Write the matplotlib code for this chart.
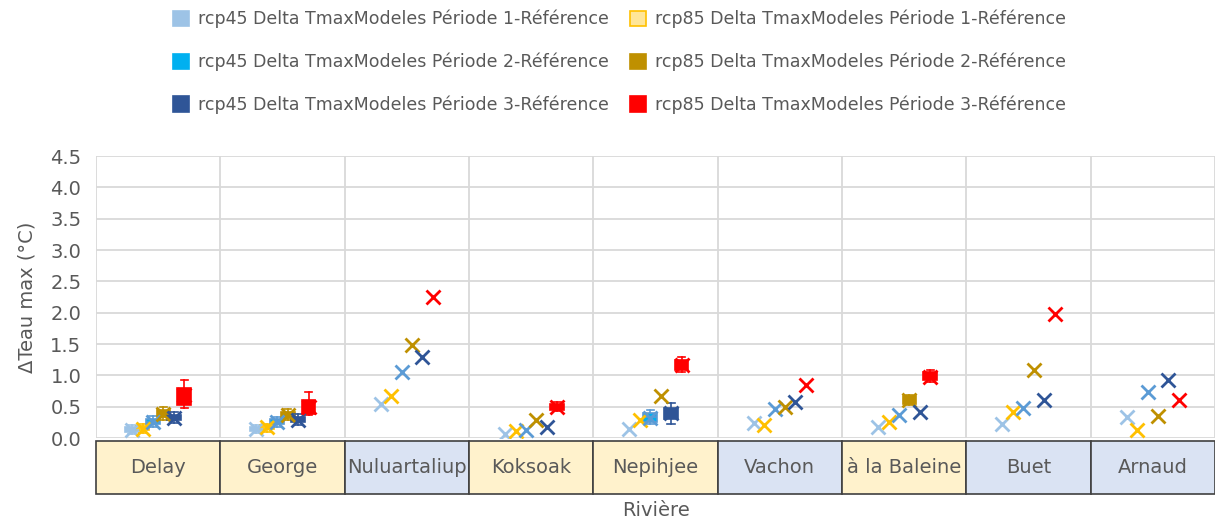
import matplotlib
matplotlib.use("Agg")
import matplotlib.pyplot as plt
from matplotlib.patches import Rectangle, Patch

plt.rcParams['font.family'] = ['DejaVu Sans']

categories = ["Delay", "George", "Nuluartaliup", "Koksoak", "Nepihjee",
              "Vachon", "à la Baleine", "Buet", "Arnaud"]
cell_colors = ["#FFF2CC", "#FFF2CC", "#DAE3F3", "#FFF2CC", "#FFF2CC",
               "#DAE3F3", "#FFF2CC", "#DAE3F3", "#DAE3F3"]

series_names = [
    "rcp45 Delta TmaxModeles Période 1-Référence",
    "rcp85 Delta TmaxModeles Période 1-Référence",
    "rcp45 Delta TmaxModeles Période 2-Référence",
    "rcp85 Delta TmaxModeles Période 2-Référence",
    "rcp45 Delta TmaxModeles Période 3-Référence",
    "rcp85 Delta TmaxModeles Période 3-Référence",
]
line_colors = ["#9DC3E6", "#FFC000", "#5B9BD5", "#BF9000", "#2F5597", "#FF0000"]
fill_colors = ["#9DC3E6", "#FFE699", "#00B0F0", "#BF9000", "#2F5597", "#FF0000"]
legend_edges = ["#9DC3E6", "#FFC000", "#00B0F0", "#BF9000", "#2F5597", "#FF0000"]

# mean values (rows = series in plotting order, columns = categories)
means = [
    [0.13, 0.14, 0.55, 0.07, 0.14, 0.24, 0.17, 0.23, 0.34],
    [0.15, 0.17, 0.67, 0.11, 0.28, 0.21, 0.26, 0.42, 0.13],
    [0.26, 0.26, 1.05, 0.13, 0.32, 0.47, 0.37, 0.48, 0.73],
    [0.38, 0.36, 1.48, 0.29, 0.67, 0.50, 0.61, 1.08, 0.35],
    [0.32, 0.29, 1.30, 0.17, 0.40, 0.58, 0.42, 0.60, 0.92],
    [0.68, 0.50, 2.25, 0.50, 1.16, 0.85, 0.97, 1.98, 0.60],
]
q1 = [
    [0.10, 0.11, 0.55, 0.07, 0.14, 0.24, 0.17, 0.23, 0.34],
    [0.12, 0.14, 0.67, 0.11, 0.28, 0.21, 0.26, 0.42, 0.13],
    [0.22, 0.22, 1.05, 0.13, 0.26, 0.47, 0.37, 0.48, 0.73],
    [0.33, 0.32, 1.48, 0.29, 0.67, 0.50, 0.55, 1.08, 0.35],
    [0.28, 0.25, 1.30, 0.17, 0.30, 0.58, 0.42, 0.60, 0.92],
    [0.52, 0.38, 2.25, 0.45, 1.08, 0.85, 0.92, 1.98, 0.60],
]
q3 = [
    [0.17, 0.17, 0.55, 0.07, 0.14, 0.24, 0.17, 0.23, 0.34],
    [0.19, 0.20, 0.67, 0.11, 0.28, 0.21, 0.26, 0.42, 0.13],
    [0.30, 0.30, 1.05, 0.13, 0.40, 0.47, 0.37, 0.48, 0.73],
    [0.44, 0.42, 1.48, 0.29, 0.67, 0.50, 0.67, 1.08, 0.35],
    [0.37, 0.34, 1.30, 0.17, 0.48, 0.58, 0.42, 0.60, 0.92],
    [0.80, 0.60, 2.25, 0.55, 1.25, 0.85, 1.05, 1.98, 0.60],
]
whisk_lo = [
    [0.06, 0.08, 0.55, 0.07, 0.14, 0.24, 0.17, 0.23, 0.34],
    [0.08, 0.10, 0.67, 0.11, 0.28, 0.21, 0.26, 0.42, 0.13],
    [0.18, 0.18, 1.05, 0.13, 0.22, 0.47, 0.37, 0.48, 0.73],
    [0.28, 0.28, 1.48, 0.29, 0.67, 0.50, 0.53, 1.08, 0.35],
    [0.24, 0.21, 1.30, 0.17, 0.22, 0.58, 0.42, 0.60, 0.92],
    [0.48, 0.36, 2.25, 0.43, 1.05, 0.85, 0.90, 1.98, 0.60],
]
whisk_hi = [
    [0.20, 0.20, 0.55, 0.07, 0.14, 0.24, 0.17, 0.23, 0.34],
    [0.23, 0.23, 0.67, 0.11, 0.28, 0.21, 0.26, 0.42, 0.13],
    [0.35, 0.34, 1.05, 0.13, 0.44, 0.47, 0.37, 0.48, 0.73],
    [0.50, 0.46, 1.48, 0.29, 0.67, 0.50, 0.69, 1.08, 0.35],
    [0.42, 0.38, 1.30, 0.17, 0.56, 0.58, 0.42, 0.60, 0.92],
    [0.93, 0.73, 2.25, 0.57, 1.30, 0.85, 1.08, 1.98, 0.60],
]
yticks = [0.0, 0.5, 1.0, 1.5, 2.0, 2.5, 3.0, 3.5, 4.0, 4.5]

W, H = 1215, 523
fig = plt.figure(figsize=(W / 100, H / 100), dpi=100)
ax = fig.add_axes([96 / W, 1 - 438 / H, (1215 - 96) / W, 282 / H])

n = len(categories)
ax.set_xlim(-0.5, n - 0.5)
ax.set_ylim(0, 4.5)
ax.set_yticks(yticks)
ax.set_yticklabels([f"{v:.1f}" for v in yticks], color="#595959", fontsize=14)
ax.set_xticks([])
ax.tick_params(axis="y", length=0, pad=10.5)
for s in ax.spines.values():
    s.set_visible(False)
for v in yticks:
    ax.axhline(v, color="#D9D9D9", lw=1.3, zorder=0)
for i in range(n + 1):
    ax.axvline(i - 0.5, color="#D9D9D9", lw=1.3, zorder=0)

step = 0.084
bw = 0.11
for k in range(6):
    xs = [i + (k - 2.5) * step for i in range(n)]
    stats, pos = [], []
    for i in range(n):
        if q3[k][i] > q1[k][i]:
            stats.append(dict(med=(q1[k][i] + q3[k][i]) / 2, q1=q1[k][i], q3=q3[k][i],
                              whislo=whisk_lo[k][i], whishi=whisk_hi[k][i],
                              fliers=[], mean=means[k][i]))
            pos.append(xs[i])
    if stats:
        ax.bxp(stats, positions=pos, widths=bw, patch_artist=True, showmeans=False,
               manage_ticks=False,
               boxprops=dict(facecolor=fill_colors[k], edgecolor=line_colors[k], lw=1.2),
               whiskerprops=dict(color=line_colors[k], lw=1.2),
               capprops=dict(color=line_colors[k], lw=1.2),
               medianprops=dict(color=line_colors[k], lw=1.2),
               capwidths=0.06, zorder=3)
    ax.plot(xs, means[k], linestyle="none", marker="x", markersize=9.5,
            markeredgewidth=2, color=line_colors[k], zorder=4)

# category table under the axis
xtr = ax.get_xaxis_transform()
for i, (cat, cc) in enumerate(zip(categories, cell_colors)):
    ax.add_patch(Rectangle((i - 0.5, -0.199), 1, 0.188, transform=xtr, clip_on=False,
                           facecolor=cc, edgecolor="#404040", lw=1.2, zorder=2))
    ax.text(i, -0.105, cat, transform=xtr, ha="center", va="center",
            fontsize=14, color="#595959")

ax.text(0.5, -0.257, "Rivière", transform=ax.transAxes, ha="center", va="center",
        fontsize=14, color="#595959")
fig.text(27 / W, 1 - 297 / H, "ΔTeau max (°C)", rotation=90, ha="center", va="center",
         fontsize=14, color="#595959")

handles = [Patch(facecolor=fill_colors[k], edgecolor=legend_edges[k], lw=1.2)
           for k in [0, 2, 4, 1, 3, 5]]
labels = [series_names[k] for k in [0, 2, 4, 1, 3, 5]]
fig.legend(handles, labels, ncol=2, loc="upper left", bbox_to_anchor=(173 / W, 1 - 10 / H),
           frameon=False, fontsize=12.5, labelcolor="#595959", handlelength=0.9,
           handleheight=1.0, handletextpad=0.55, labelspacing=1.4, columnspacing=1.2,
           borderaxespad=0, borderpad=0)

fig.savefig("out.png", dpi=100)
